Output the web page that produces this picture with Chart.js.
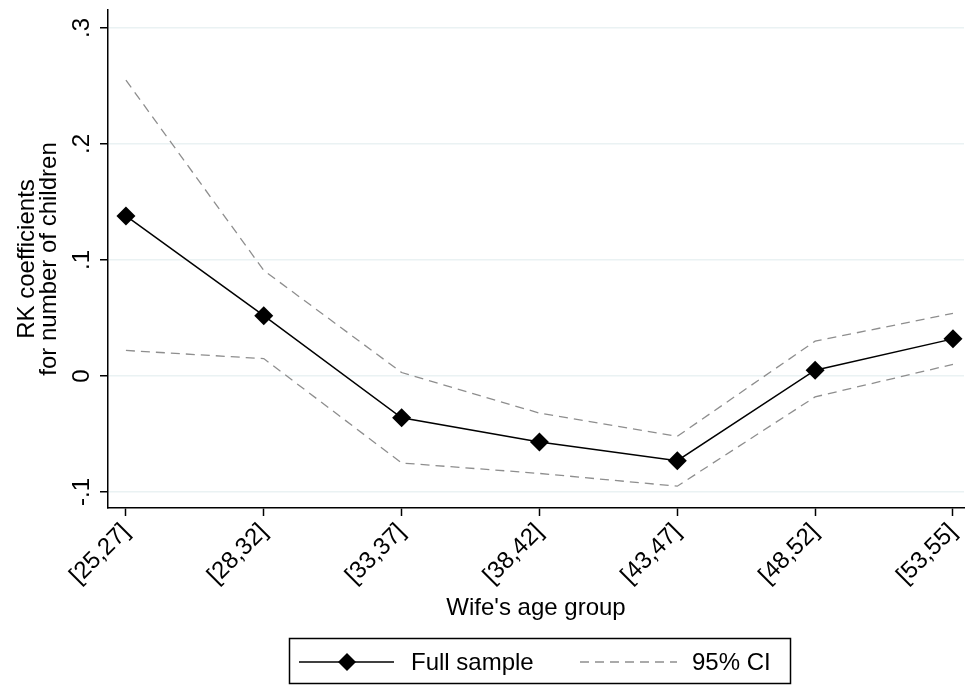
<!DOCTYPE html>
<html>
<head>
<meta charset="utf-8">
<script src="https://cdn.jsdelivr.net/npm/chart.js@4/dist/chart.umd.min.js"></script>
<style>
  html, body { margin: 0; padding: 0; background: #fff; }
  #wrap { width: 966px; height: 686px; position: relative; }
</style>
</head>
<body>
<div id="wrap"><canvas id="chart"></canvas></div>
<script>
// Data
const ageGroups = ['[25,27]', '[28,32]', '[33,37]', '[38,42]', '[43,47]', '[48,52]', '[53,55]'];
const fullSample = [0.138, 0.052, -0.036, -0.057, -0.073, 0.005, 0.032];
const ciUpper = [0.255, 0.091, 0.003, -0.032, -0.052, 0.030, 0.054];
const ciLower = [0.022, 0.015, -0.075, -0.084, -0.095, -0.018, 0.010];
const yTicks = [-0.1, 0, 0.1, 0.2, 0.3];
const yTickLabels = ['-.1', '0', '.1', '.2', '.3'];
const legendLabels = ['Full sample', '95% CI'];

const FONT = "'Liberation Sans', Arial, sans-serif";
const GRID = '#eaf2f3';
const CI_COLOR = '#8e8e8e';
const CI_DASH = [9, 6];

const toPoints = (vals) => vals.map((v, i) => ({ x: i, y: v }));

// legend box drawn under the axis title (Stata style)
const boxLegend = {
  id: 'boxLegend',
  afterDraw(chart) {
    const ctx = chart.ctx;
    const ds = chart.data.datasets;
    const y = 662;
    ctx.save();
    ctx.strokeStyle = '#000';
    ctx.lineWidth = 1.5;
    ctx.strokeRect(289.5, 638.5, 501, 45);

    // full sample: line + diamond
    ctx.beginPath();
    ctx.moveTo(299, y);
    ctx.lineTo(394, y);
    ctx.strokeStyle = ds[0].borderColor;
    ctx.lineWidth = ds[0].borderWidth;
    ctx.stroke();
    ctx.fillStyle = '#000';
    ctx.beginPath();
    ctx.moveTo(347 - 9, y); ctx.lineTo(347, y - 9); ctx.lineTo(347 + 9, y); ctx.lineTo(347, y + 9);
    ctx.closePath();
    ctx.fill();

    // CI dashed sample
    ctx.beginPath();
    ctx.setLineDash(ds[1].borderDash);
    ctx.moveTo(580, y);
    ctx.lineTo(677, y);
    ctx.strokeStyle = ds[1].borderColor;
    ctx.lineWidth = ds[1].borderWidth;
    ctx.stroke();
    ctx.setLineDash([]);

    ctx.fillStyle = '#000';
    ctx.font = '24px ' + FONT;
    ctx.textBaseline = 'middle';
    ctx.textAlign = 'left';
    ctx.fillText(legendLabels[0], 411, y + 1);
    ctx.fillText(legendLabels[1], 692, y + 1);
    ctx.restore();
  }
};

new Chart(document.getElementById('chart'), {
  type: 'line',
  data: {
    datasets: [
      {
        label: legendLabels[0],
        data: toPoints(fullSample),
        borderColor: '#000',
        borderWidth: 1.5,
        pointStyle: 'rectRot',
        pointRadius: 9.5,
        pointBackgroundColor: '#000',
        pointBorderWidth: 0,
        tension: 0
      },
      {
        label: legendLabels[1],
        data: toPoints(ciUpper),
        borderColor: CI_COLOR,
        borderWidth: 1.3,
        borderDash: CI_DASH,
        pointRadius: 0,
        tension: 0
      },
      {
        label: legendLabels[1] + ' lower',
        data: toPoints(ciLower),
        borderColor: CI_COLOR,
        borderWidth: 1.3,
        borderDash: CI_DASH,
        pointRadius: 0,
        tension: 0
      }
    ]
  },
  options: {
    responsive: true,
    maintainAspectRatio: false,
    animation: false,
    layout: { autoPadding: false, padding: { top: 10, right: 2, bottom: 56, left: 0 } },
    plugins: {
      legend: { display: false },
      tooltip: { enabled: false }
    },
    scales: {
      x: {
        type: 'linear',
        min: -0.13,
        max: 6.08,
        afterBuildTicks: (s) => { s.ticks = ageGroups.map((g, i) => ({ value: i })); },
        afterFit: (s) => { s.height = 122; s.paddingLeft = 0; s.paddingRight = 0; },
        ticks: {
          callback: (v) => ageGroups[v],
          minRotation: 45,
          maxRotation: 45,
          padding: 2,
          color: '#000',
          font: { family: FONT, size: 24 }
        },
        grid: { drawOnChartArea: false, drawTicks: true, tickLength: 8, tickColor: '#000', tickWidth: 1.5 },
        border: { display: true, color: '#000', width: 1.5 },
        title: {
          display: true,
          text: "Wife's age group",
          color: '#000',
          font: { family: FONT, size: 24 },
          padding: { top: 0, bottom: 7 }
        }
      },
      y: {
        min: -0.1138,
        max: 0.3155,
        afterBuildTicks: (s) => { s.ticks = yTicks.map((v) => ({ value: v })); },
        afterFit: (s) => { s.width = 108; s.paddingTop = 0; s.paddingBottom = 0; },
        ticks: {
          callback: (v, i) => yTickLabels[i],
          minRotation: 90,
          maxRotation: 90,
          crossAlign: 'center',
          padding: 4,
          color: '#000',
          font: { family: FONT, size: 24 }
        },
        grid: { color: GRID, lineWidth: 1.5, drawTicks: true, tickLength: 8, tickColor: '#000', tickWidth: 1.5 },
        border: { display: true, color: '#000', width: 1.5 },
        title: {
          display: true,
          text: ['RK coefficients', 'for number of children'],
          color: '#000',
          font: { family: FONT, size: 24, lineHeight: 0.9 },
          padding: { top: 17, bottom: 0 }
        }
      }
    }
  },
  plugins: [boxLegend]
});
</script>
</body>
</html>
